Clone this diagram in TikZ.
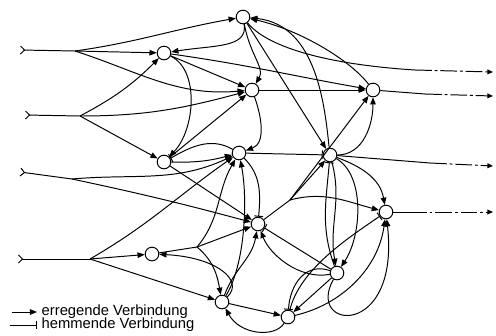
\documentclass[tikz,border=0pt]{standalone}
\usepackage{fontspec}
\setmainfont{Liberation Sans}
\usepackage{tikz}
\usetikzlibrary{arrows.meta}

\begin{document}
\begin{tikzpicture}[
  x=0.025cm, y=-0.025cm,
  line width=0.7pt,
  neuron/.style={draw, circle, minimum size=3.4mm, inner sep=0pt, fill=white},
  exc/.style={-{Triangle[length=1.8mm, width=1.4mm]}},
  inh/.style={-{Bar[width=2.2mm]}},
  inlink/.style={{Straight Barb[reversed, length=1mm, width=2mm]}-},
  outlink/.style={dash pattern=on 12pt off 2pt on 2pt off 2pt, -{Triangle[length=1.4mm, width=1.2mm]}},
  legend/.style={anchor=west, inner sep=3pt, font=\fontsize{10.5}{12}\selectfont}
]
\useasboundingbox (0,0) rectangle (496,336);

% neurons
\node[neuron] (a) at (243,17) {};
\node[neuron] (b) at (164,53) {};
\node[neuron] (c) at (252,90) {};
\node[neuron] (d) at (373,90) {};
\node[neuron] (e) at (164,162) {};
\node[neuron] (f) at (239,153) {};
\node[neuron] (g) at (330,155) {};
\node[neuron] (h) at (258,224) {};
\node[neuron] (i) at (386,212) {};
\node[neuron] (j) at (152,254) {};
\node[neuron] (k) at (337,273) {};
\node[neuron] (l) at (222,302) {};
\node[neuron] (m) at (288,317) {};

% inputs and branch points
\coordinate (e1) at (20,50);  \coordinate (v1) at (75,51);
\coordinate (e2) at (25,115); \coordinate (v2) at (80,116);
\coordinate (e3) at (20,172); \coordinate (v3) at (72,179);
\coordinate (e4) at (18,259); \coordinate (v4) at (90,259);
\coordinate (jb) at (197,247);
\coordinate (hb) at (290,200);

% outputs
\coordinate (p1) at (415,70);  \coordinate (o1) at (493,72);
\coordinate (p2) at (425,94);  \coordinate (o2) at (493,96);
\coordinate (p3) at (430,163); \coordinate (o3) at (493,166);
\coordinate (p4) at (410,212); \coordinate (o4) at (493,212);

\draw[inlink] (e1) -- (v1);
\draw[inlink] (e2) -- (v2);
\draw[inlink] (e3) -- (v3);
\draw[inlink] (e4) -- (v4);

% input 1
\draw[exc] (v1) to[out=8,in=190] (a);
\draw[exc] (v1) -- (b);
\draw[exc] (v1) to[out=-18,in=185] (c);
% input 2
\draw[exc] (v2) to[out=28,in=225] (b);
\draw[exc] (v2) to[out=0,in=195] (c);
\draw[exc] (v2) -- (e);
% input 3
\draw[exc] (v3) to[out=5,in=205] (f);
\draw[exc] (v3) to[out=-12,in=165] (h);
% input 4
\draw[exc] (v4) -- (j);
\draw[exc] (v4) to[out=30,in=215] (f);
\draw[exc] (v4) -- (l);

% a
\draw[exc] (a) .. controls (248,48) and (215,45) .. (b);
\draw[exc] (a) .. controls (250,55) and (265,68) .. (c);
\draw[exc] (a) -- (g);
\draw (a) .. controls (265,45) and (320,64) .. (p1);
\draw[outlink] (p1) -- (o1);
\draw[exc] (d) .. controls (350,60) and (300,30) .. (a);
\draw[exc] (g) .. controls (325,110) and (318,25) .. (a);

% b, c, d
\draw[exc] (b) -- (c);
\draw[exc] (b) to[out=-8,in=170] (d);
\draw[exc] (b) .. controls (200,70) and (195,130) .. (e);
\draw[exc] (c) -- (d);
\draw[exc] (c) to[out=-70,in=20] (f);
\draw (d) -- (p2);
\draw[outlink] (p2) -- (o2);

% e, f
\draw[exc] (e) -- (c);
\draw[exc] (e) -- (h);
\draw[exc] (e) to[bend right=8] (f);
\draw[inh] (f) to[out=150,in=30] (e);
\draw[inh] (f) -- (g);
\draw[inh] (f) to[out=-45,in=85] (h);

% j, l, m
\draw (j) -- (jb);
\draw[exc] (jb) to[out=50,in=-120] (f);
\draw[exc] (jb) -- (h);
\draw[exc] (jb) to[out=-40,in=100] (l);
\draw[exc] (l) to[out=70,in=-100] (h);
\draw[exc] (l) .. controls (245,265) and (248,200) .. (f);
\draw[exc] (l) .. controls (245,280) and (215,257) .. (j);
\draw[exc] (l) -- (m);
\draw[exc] (m) .. controls (275,338) and (240,335) .. (l);

% h, g
\draw (h) -- (hb);
\draw[exc] (hb) -- (g);
\draw[exc] (hb) to[out=15,in=165] (i);
\draw[exc] (hb) -- (d);
\draw (g) -- (p3);
\draw[outlink] (p3) -- (o3);
\draw[exc] (g) to[out=0,in=-90] (d);
\draw[exc] (g) to[out=-20,in=100] (i);
\draw[exc] (g) to[out=-75,in=100] (k);
\draw[exc] (g) .. controls (365,175) and (362,235) .. (k);
\draw[inh] (k) to[out=110,in=-95] (g);

% k, m, i
\draw[inh] (k) -- (h);
\draw[exc] (k) .. controls (300,280) and (270,255) .. (h);
\draw[exc] (k) -- (m);
\draw[inh] (k) .. controls (305,262) and (290,285) .. (m);
\draw[exc] (k) .. controls (305,330) and (400,340) .. (i);
\draw[exc] (m) .. controls (340,305) and (378,270) .. (i);
\draw[inh] (m) .. controls (300,270) and (345,240) .. (i);
\draw (i) -- (p4);
\draw[outlink] (p4) -- (o4);

% legend
\coordinate (l1) at (12,312);
\coordinate (l2) at (10,325);
\node[legend] (t1) at (37,312) {erregende Verbindung};
\node[legend] (t2) at (37,325) {hemmende Verbindung};
\draw[exc] (l1) -- (t1);
\draw[inh] (l2) -- (t2);
\end{tikzpicture}
\end{document}
